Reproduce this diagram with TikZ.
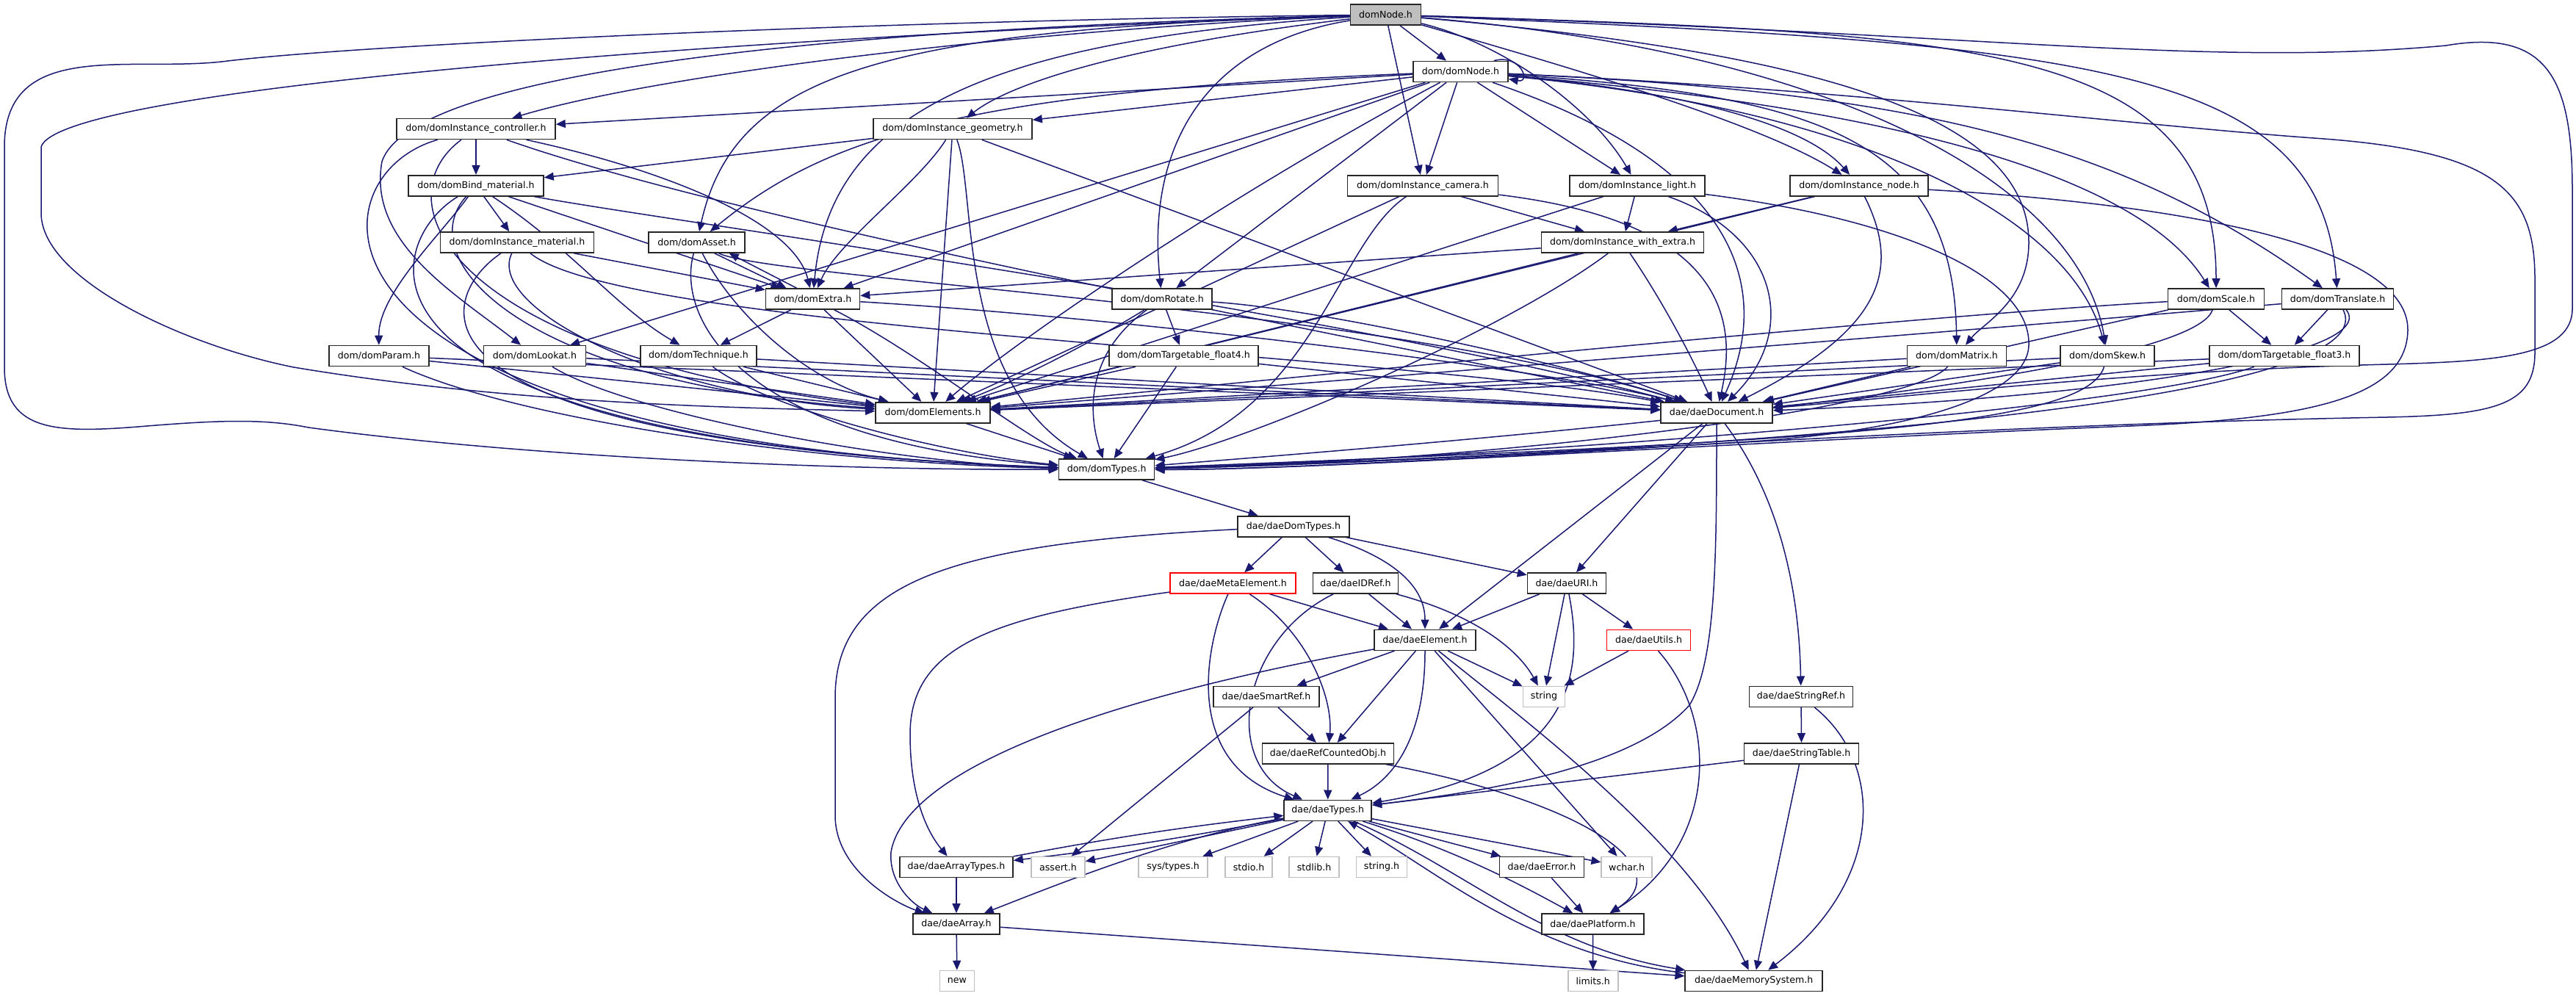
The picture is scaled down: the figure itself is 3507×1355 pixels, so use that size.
\documentclass[tikz,border=0pt]{standalone}
\usepackage{fontspec}
\setmainfont{DejaVu Sans}
\usetikzlibrary{arrows.meta}
\definecolor{edgecol}{HTML}{191970}
\definecolor{nodegray}{HTML}{BFBFBF}
\definecolor{sysgray}{HTML}{BFBFBF}
\pgfdeclarelayer{bg}
\pgfsetlayers{bg,main}
\tikzset{
 hdr/.style={draw=black!85, line width=0.8pt, fill=white, rectangle, minimum height=14pt, inner sep=0pt, font=\fontsize{6.3pt}{7.5pt}\selectfont},
 sys/.style={hdr, draw=sysgray},
 trunc/.style={hdr, draw=red},
 dep/.style={draw=edgecol, line width=0.75pt, -{Triangle[length=6.5pt,width=5.5pt]}},
}
\begin{document}
\begin{tikzpicture}[x=0.5pt,y=-0.5pt]
\useasboundingbox (0,0) rectangle (3507,1355);
% nodes
\node[hdr, fill=nodegray, minimum width=48pt] (n0) at (1886.5,20) {domNode.h};
\node[hdr, minimum width=64.5pt] (n1) at (1988.5,97.5) {dom/domNode.h};
\node[hdr, minimum width=108pt] (ictrl) at (648,175.5) {dom/domInstance\_controller.h};
\node[hdr, minimum width=108pt] (igeom) at (1297,175.5) {dom/domInstance\_geometry.h};
\node[hdr, minimum width=92pt] (bind) at (648,252.7) {dom/domBind\_material.h};
\node[hdr, minimum width=102.5pt] (icam) at (1937,252.7) {dom/domInstance\_camera.h};
\node[hdr, minimum width=92pt] (ilight) at (2229,252.7) {dom/domInstance\_light.h};
\node[hdr, minimum width=94pt] (inode) at (2531,252.7) {dom/domInstance\_node.h};
\node[hdr, minimum width=104.5pt] (imat) at (704,330) {dom/domInstance\_material.h};
\node[hdr, minimum width=65.5pt] (asset) at (948.6,330) {dom/domAsset.h};
\node[hdr, minimum width=110.5pt] (iwe) at (2209,330) {dom/domInstance\_with\_extra.h};
\node[hdr, minimum width=64pt] (extra) at (1106.5,407) {dom/domExtra.h};
\node[hdr, minimum width=68pt] (rotate) at (1582,407) {dom/domRotate.h};
\node[hdr, minimum width=65.5pt] (scale) at (3017,407) {dom/domScale.h};
\node[hdr, minimum width=76pt] (translate) at (3182.5,407) {dom/domTranslate.h};
\node[hdr, minimum width=68pt] (param) at (516,484.5) {dom/domParam.h};
\node[hdr, minimum width=69.5pt] (lookat) at (728,484.5) {dom/domLookat.h};
\node[hdr, minimum width=79pt] (technique) at (951,484.5) {dom/domTechnique.h};
\node[hdr, minimum width=101.5pt] (tf4) at (1611.4,484.5) {dom/domTargetable\_float4.h};
\node[hdr, minimum width=67.5pt] (matrix) at (2664,484.5) {dom/domMatrix.h};
\node[hdr, minimum width=64pt] (skew) at (2869,484.5) {dom/domSkew.h};
\node[hdr, minimum width=102pt] (tf3) at (3110,484.5) {dom/domTargetable\_float3.h};
\node[hdr, minimum width=78pt] (elements) at (1270,561.7) {dom/domElements.h};
\node[hdr, minimum width=76pt] (document) at (2337,561.7) {dae/daeDocument.h};
\node[hdr, minimum width=65pt] (types) at (1506.6,639) {dom/domTypes.h};
\node[hdr, minimum width=76pt] (daedom) at (1761,716.7) {dae/daeDomTypes.h};
\node[trunc, minimum width=85.5pt] (meta) at (1678.5,794) {dae/daeMetaElement.h};
\node[hdr, minimum width=58pt] (idref) at (1845.5,794) {dae/daeIDRef.h};
\node[hdr, minimum width=53.5pt] (uri) at (2133,794) {dae/daeURI.h};
\node[hdr, minimum width=69pt] (element) at (1940,871.3) {dae/daeElement.h};
\node[trunc, minimum width=57pt] (utils) at (2244.5,871.3) {dae/daeUtils.h};
\node[hdr, minimum width=72pt] (smartref) at (1724,948.3) {dae/daeSmartRef.h};
\node[sys, minimum width=28.5pt] (string) at (2102,948.3) {string};
\node[hdr, minimum width=70.5pt] (stringref) at (2452,948.3) {dae/daeStringRef.h};
\node[hdr, minimum width=89.5pt] (refcount) at (1808,1025.8) {dae/daeRefCountedObj.h};
\node[hdr, minimum width=78pt] (stringtable) at (2452.6,1025.8) {dae/daeStringTable.h};
\node[hdr, minimum width=59.5pt] (daetypes) at (1807.7,1103.3) {dae/daeTypes.h};
\node[hdr, minimum width=77pt] (arraytypes) at (1302,1180.5) {dae/daeArrayTypes.h};
\node[sys, minimum width=36.5pt] (assert) at (1440.5,1180.5) {assert.h};
\node[sys, minimum width=47pt] (systypes) at (1597,1180.5) {sys/types.h};
\node[sys, minimum width=32pt] (stdio) at (1700,1180.5) {stdio.h};
\node[sys, minimum width=34pt] (stdlib) at (1789,1180.5) {stdlib.h};
\node[sys, minimum width=34.5pt] (stringh) at (1881,1180.5) {string.h};
\node[hdr, minimum width=57.5pt] (error) at (2099,1180.5) {dae/daeError.h};
\node[sys, minimum width=34.5pt] (wchar) at (2214.7,1180.5) {wchar.h};
\node[hdr, minimum width=59pt] (array) at (1302,1258) {dae/daeArray.h};
\node[hdr, minimum width=69.5pt] (platform) at (2168.5,1258) {dae/daePlatform.h};
\node[sys, minimum width=23.5pt] (newh) at (1303,1335.5) {new};
\node[sys, minimum width=34pt] (limits) at (2168.7,1335.5) {limits.h};
\node[hdr, minimum width=93.5pt] (memsys) at (2387.7,1335.5) {dae/daeMemorySystem.h};

\begin{pgfonlayer}{bg}
% ---- domNode.h
\draw[dep] (n0) -- (n1);
\draw[dep] (n0) -- (icam);
\draw[dep] (n0) .. controls (2050,60) and (2170,150) .. (ilight);
\draw[dep] (n0) .. controls (2150,95) and (2400,170) .. (inode);
\draw[dep] (n0) .. controls (2700,45) and (3017,60) .. (scale);
\draw[dep] (n0) .. controls (2850,60) and (3160,90) .. (translate);
\draw[dep] (n0) .. controls (2700,45) and (3000,92) .. (3330,62) .. controls (3470,38) and (3502,110) .. (3502,260) -- (3502,420) .. controls (3502,485) and (3400,492) .. (3250,496) .. controls (2900,505) and (2600,540) .. (document);
\draw[dep] (n0) .. controls (2450,70) and (2762,150) .. (2762,330) .. controls (2762,410) and (2700,440) .. (matrix);
\draw[dep] (n0) .. controls (2500,70) and (2830,250) .. (skew);
\draw[dep] (n0) .. controls (1400,40) and (900,100) .. (ictrl);
\draw[dep] (n0) .. controls (1550,60) and (1380,110) .. (igeom);
\draw[dep] (n0) .. controls (1200,40) and (1000,100) .. (asset);
\draw[dep] (n0) .. controls (1350,55) and (1130,150) .. (extra);
\draw[dep] (n0) .. controls (1100,40) and (560,100) .. (520,220) .. controls (500,330) and (620,400) .. (lookat);
\draw[dep] (n0) .. controls (1640,60) and (1560,200) .. (rotate);
\draw[dep] (n0) .. controls (1000,50) and (80,120) .. (56,200) -- (56,290) .. controls (56,380) and (250,470) .. (400,500) .. controls (700,550) and (1000,555) .. (elements);
\draw[dep] (n0) .. controls (1200,28) and (500,60) .. (310,83) .. controls (180,100) and (6,50) .. (6,200) -- (6,500) .. controls (6,590) and (80,590) .. (200,580) .. controls (300,572) and (360,570) .. (420,582) .. controls (700,620) and (1100,640) .. (types);
% ---- dom/domNode.h
\draw[dep] ([xshift=-10pt]n1.north east) .. controls ([xshift=8pt,yshift=5pt]n1.north east) and ([xshift=16pt,yshift=-8pt]n1.east) .. ([yshift=-5pt]n1.east);
\draw[dep] (n1) -- (ictrl);
\draw[dep] (n1) -- (igeom);
\draw[dep] (n1) -- (icam);
\draw[dep] (n1) -- (ilight);
\draw[dep] (n1) .. controls (2250,120) and (2450,160) .. (inode);
\draw[dep] (n1) .. controls (1300,125) and (1120,190) .. (asset);
\draw[dep] (n1) -- (extra);
\draw[dep] (n1) -- (lookat);
\draw[dep] (n1) -- (rotate);
\draw[dep] (n1) .. controls (2500,140) and (2900,220) .. (scale);
\draw[dep] (n1) .. controls (2600,125) and (2880,190) .. (translate);
\draw[dep] (n1) .. controls (2500,130) and (2660,200) .. (matrix);
\draw[dep] (n1) .. controls (2550,150) and (2820,300) .. (skew);
\draw[dep] (n1) .. controls (1700,250) and (1400,450) .. (elements);
\draw[dep] (n1) .. controls (2500,120) and (2900,170) .. (3150,188) .. controls (3400,205) and (3451,260) .. (3451,380) -- (3451,480) .. controls (3451,550) and (3400,565) .. (3250,568) .. controls (2600,580) and (2000,630) .. (types);
\draw[dep] (n1) .. controls (2350,220) and (2420,380) .. (document);
% ---- instance_controller
\draw[dep] (ictrl) -- (bind);
\draw[dep] (ictrl) .. controls (900,230) and (1080,300) .. (extra);
\draw[dep] (ictrl) .. controls (520,270) and (600,480) .. (elements);
\draw[dep] (ictrl) .. controls (420,240) and (380,600) .. (types);
\draw[dep] (ictrl) .. controls (1000,300) and (1800,450) .. (document);
% ---- instance_geometry
\draw[dep] (igeom) -- (bind);
\draw[dep] (igeom) .. controls (1250,250) and (1140,330) .. (extra);
\draw[dep] (igeom) -- (elements);
\draw[dep] (igeom) .. controls (1330,260) and (1300,520) .. (types);
\draw[dep] (igeom) -- (document);
% ---- bind_material
\draw[dep] (bind) -- (imat);
\draw[dep] (bind) .. controls (600,320) and (515,400) .. (param);
\draw[dep] (bind) .. controls (780,340) and (840,420) .. (technique);
\draw[dep] (bind) -- (extra);
\draw[dep] (bind) .. controls (560,350) and (700,520) .. (elements);
\draw[dep] (bind) .. controls (520,330) and (430,600) .. (types);
\draw[dep] (bind) .. controls (900,300) and (1800,420) .. (document);
% ---- instance_material
\draw[dep] (imat) -- (extra);
\draw[dep] (imat) .. controls (660,420) and (900,540) .. (elements);
\draw[dep] (imat) .. controls (600,400) and (500,600) .. (types);
\draw[dep] (imat) .. controls (850,450) and (1900,480) .. (document);
% ---- asset / extra
\draw[dep] ([xshift=12pt]asset.south) -- ([xshift=-18pt]extra.north);
\draw[dep] ([xshift=-11pt]extra.north) -- ([xshift=22pt]asset.south);
\draw[dep] (asset) .. controls (1000,430) and (1100,520) .. (elements);
\draw[dep] (asset) .. controls (920,430) and (1000,600) .. (types);
\draw[dep] (asset) .. controls (1050,380) and (1900,420) .. (document);
\draw[dep] (extra) -- (technique);
\draw[dep] (extra) -- (elements);
\draw[dep] (extra) .. controls (1250,480) and (1400,600) .. (types);
\draw[dep] (extra) .. controls (1500,430) and (2100,500) .. (document);
% ---- instance camera / light / node / with_extra
\draw[dep] (icam) -- (iwe);
\draw[dep] (icam) -- (elements);
\draw[dep] (icam) .. controls (1820,330) and (1790,560) .. (types);
\draw[dep] (icam) .. controls (2330,300) and (2370,420) .. (document);
\draw[dep] (ilight) -- (iwe);
\draw[dep] (ilight) -- (elements);
\draw[dep] (ilight) .. controls (2420,320) and (2450,450) .. (document);
\draw[dep] (ilight) .. controls (2600,300) and (2765,380) .. (2762,470) .. controls (2760,540) and (2600,585) .. (2400,600) .. controls (2000,625) and (1700,640) .. (types);
\draw[dep] (inode) -- (iwe);
\draw[dep] (inode) -- (elements);
\draw[dep] (inode) .. controls (2590,370) and (2560,450) .. (document);
\draw[dep] (inode) .. controls (3000,280) and (3280,340) .. (3278,450) .. controls (3276,540) and (3150,570) .. (2900,580) .. controls (2400,600) and (1800,640) .. (types);
\draw[dep] (iwe) -- (extra);
\draw[dep] (iwe) -- (elements);
\draw[dep] (iwe) .. controls (2050,450) and (1700,600) .. (types);
\draw[dep] (iwe) .. controls (2270,420) and (2310,500) .. (document);
% ---- rotate / scale / translate
\draw[dep] (rotate) -- (tf4);
\draw[dep] (rotate) .. controls (1480,470) and (1380,520) .. (elements);
\draw[dep] (rotate) .. controls (1480,480) and (1480,560) .. (types);
\draw[dep] (rotate) .. controls (1800,420) and (2150,500) .. (document);
\draw[dep] (scale) -- (tf3);
\draw[dep] (scale) .. controls (2600,430) and (1700,520) .. (elements);
\draw[dep] (scale) .. controls (2980,520) and (2000,600) .. (types);
\draw[dep] (scale) -- (document);
\draw[dep] (translate) -- (tf3);
\draw[dep] (translate) .. controls (2800,440) and (1800,520) .. (elements);
\draw[dep] (translate) .. controls (3260,560) and (2200,620) .. (types);
\draw[dep] (translate) .. controls (3240,480) and (2900,540) .. (document);
% ---- rank 6
\draw[dep] (tf3) -- (elements);
\draw[dep] (tf3) .. controls (2900,560) and (2000,625) .. (types);
\draw[dep] (tf3) -- (document);
\draw[dep] (matrix) -- (elements);
\draw[dep] (matrix) .. controls (2600,560) and (2000,630) .. (types);
\draw[dep] (matrix) -- (document);
\draw[dep] (skew) -- (elements);
\draw[dep] (skew) .. controls (2840,580) and (2500,600) .. (types);
\draw[dep] (skew) -- (document);
\draw[dep] (lookat) -- (elements);
\draw[dep] (lookat) .. controls (850,560) and (1200,630) .. (types);
\draw[dep] (lookat) -- (document);
\draw[dep] (param) -- (elements);
\draw[dep] (param) .. controls (700,570) and (1100,630) .. (types);
\draw[dep] (param) -- (document);
\draw[dep] (technique) -- (elements);
\draw[dep] (technique) .. controls (1050,560) and (1300,620) .. (types);
\draw[dep] (technique) -- (document);
\draw[dep] (tf4) -- (elements);
\draw[dep] (tf4) -- (types);
\draw[dep] (tf4) -- (document);
% ---- lower part
\draw[dep] (elements) -- (types);
\draw[dep] (types) -- (daedom);
\draw[dep] (document) -- (element);
\draw[dep] (document) -- (uri);
\draw[dep] (document) .. controls (2337,750) and (2337,900) .. (2300,960) .. controls (2220,1050) and (2000,1080) .. (daetypes);
\draw[dep] (document) .. controls (2440,700) and (2450,850) .. (stringref);
\draw[dep] (daedom) -- (meta);
\draw[dep] (daedom) -- (idref);
\draw[dep] (daedom) .. controls (1900,760) and (1940,800) .. (element);
\draw[dep] (daedom) -- (uri);
\draw[dep] (daedom) .. controls (1300,740) and (1137,790) .. (1137,950) -- (1137,1110) .. controls (1137,1185) and (1220,1230) .. (array);
\draw[dep] (meta) -- (element);
\draw[dep] (meta) .. controls (1350,840) and (1239,880) .. (1239,1000) .. controls (1239,1080) and (1260,1130) .. (arraytypes);
\draw[dep] (meta) .. controls (1640,880) and (1610,1040) .. (daetypes);
\draw[dep] (meta) .. controls (1780,860) and (1815,950) .. (refcount);
\draw[dep] (idref) -- (element);
\draw[dep] (idref) .. controls (2018,840) and (2070,890) .. (string);
\draw[dep] (idref) .. controls (1690,870) and (1660,1040) .. (daetypes);
\draw[dep] (uri) -- (element);
\draw[dep] (uri) -- (string);
\draw[dep] (uri) -- (utils);
\draw[dep] (uri) .. controls (2160,930) and (2130,1050) .. (daetypes);
\draw[dep] (utils) -- (string);
\draw[dep] (utils) .. controls (2340,980) and (2340,1150) .. (platform);
\draw[dep] (element) -- (smartref);
\draw[dep] (element) -- (refcount);
\draw[dep] (element) .. controls (1940,1000) and (1900,1060) .. (daetypes);
\draw[dep] (element) -- (string);
\draw[dep] (element) -- (wchar);
\draw[dep] (element) .. controls (2100,1000) and (2300,1150) .. (memsys);
\draw[dep] (element) .. controls (1450,960) and (1230,1060) .. (1213,1160) .. controls (1210,1200) and (1240,1230) .. (array);
\draw[dep] (smartref) -- (refcount);
\draw[dep] (smartref) -- (assert);
\draw[dep] (refcount) -- (daetypes);
\draw[dep] (refcount) .. controls (2150,1090) and (2290,1180) .. (platform);
\draw[dep] (stringref) -- (stringtable);
\draw[dep] (stringref) .. controls (2566,1040) and (2566,1200) .. (memsys);
\draw[dep] (stringtable) -- (daetypes);
\draw[dep] (stringtable) -- (memsys);
\draw[dep] (daetypes) to[bend left=2] (arraytypes);
\draw[dep] (arraytypes) to[bend left=2] (daetypes);
\draw[dep] (daetypes) -- (assert);
\draw[dep] (daetypes) -- (systypes);
\draw[dep] (daetypes) -- (stdio);
\draw[dep] (daetypes) -- (stdlib);
\draw[dep] (daetypes) -- (stringh);
\draw[dep] (daetypes) -- (error);
\draw[dep] (daetypes) -- (wchar);
\draw[dep] (daetypes) .. controls (1990,1160) and (2080,1210) .. (platform);
\draw[dep] (daetypes) .. controls (1990,1180) and (2100,1290) .. (memsys);
\draw[dep] (memsys) .. controls (2080,1300) and (1950,1180) .. (daetypes);
\draw[dep] (daetypes) .. controls (1600,1140) and (1450,1200) .. (array);
\draw[dep] (arraytypes) -- (array);
\draw[dep] (array) -- (newh);
\draw[dep] (array) -- (memsys);
\draw[dep] (error) -- (platform);
\draw[dep] (platform) -- (limits);
\end{pgfonlayer}
\end{tikzpicture}
\end{document}
